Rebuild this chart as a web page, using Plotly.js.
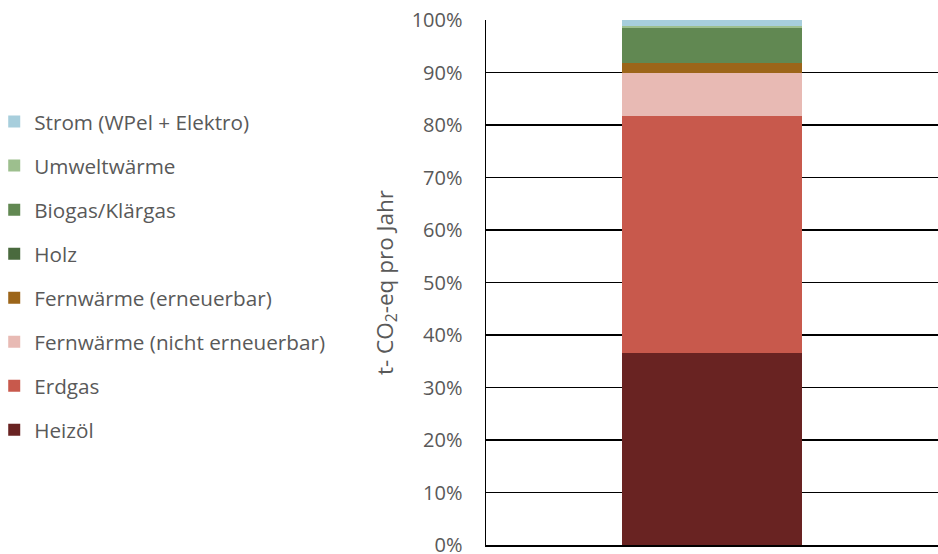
<!DOCTYPE html>
<html><head><meta charset="utf-8">
<script src="https://cdn.plot.ly/plotly-3.0.1.min.js"></script>
<style>body{margin:0;background:#fff}#c{width:938px;height:554px}</style>
</head><body><div id="c"></div>
<script>
const category = [""];
const seriesNames = ["Heizöl","Erdgas","Fernwärme (nicht erneuerbar)","Fernwärme (erneuerbar)","Holz","Biogas/Klärgas","Umweltwärme","Strom (WPel + Elektro)"];
const seriesValues = [36.6, 45.2, 8.2, 1.9, 0.0, 6.5, 0.55, 1.05];
const seriesColors = ["#692322","#C8594C","#E8BAB4","#9C6519","#4A6A3E","#618852","#9DBF8E","#A7CEDC"];
const yTicks = [0,10,20,30,40,50,60,70,80,90,100];
const yTickLabels = yTicks.map(v => v + "%");

const traces = seriesNames.map((n,i) => ({
  type: "bar", name: n, x: category, y: [seriesValues[i]],
  marker: {color: seriesColors[i], line: {width: 0}},
  legendgroup: "g" + i, legendrank: seriesNames.length - i, hoverinfo: "name+y"
}));

const layout = {
  width: 938, height: 554,
  margin: {l: 486, r: 0, t: 20, b: 9, autoexpand: false},
  barmode: "stack", bargap: 0.6,
  paper_bgcolor: "#fff", plot_bgcolor: "#fff",
  font: {family: "'Open Sans', sans-serif", color: "#595959"},
  xaxis: {showticklabels: false, showgrid: false, zeroline: false, showline: true, linecolor: "#000", linewidth: 1.5, fixedrange: true, automargin: false},
  yaxis: {
    range: [0, 100], tickvals: yTicks, ticktext: yTickLabels, automargin: false,
    showgrid: true, gridcolor: "#000", gridwidth: 1.3,
    showline: true, linecolor: "#000", linewidth: 1.5,
    zeroline: false, ticks: "", ticklabelstandoff: 18, ticklabeloverflow: "allow",
    tickfont: {size: 20, color: "#595959"},
    title: {text: "t- CO<sub>2</sub>-eq pro Jahr", font: {size: 22.5, color: "#595959"}, standoff: 12}
  },
  showlegend: true,
  legend: {
    xref: "paper", yref: "container", x: -1.088, y: 0.8165, xanchor: "left", yanchor: "top",
    traceorder: "grouped", tracegroupgap: 14.1, maxheight: 1,
    font: {size: 20.7, color: "#595959"}, itemwidth: 30, bgcolor: "rgba(0,0,0,0)"
  }
};
Plotly.newPlot("c", traces, layout, {displayModeBar: false, staticPlot: true});
</script></body></html>
